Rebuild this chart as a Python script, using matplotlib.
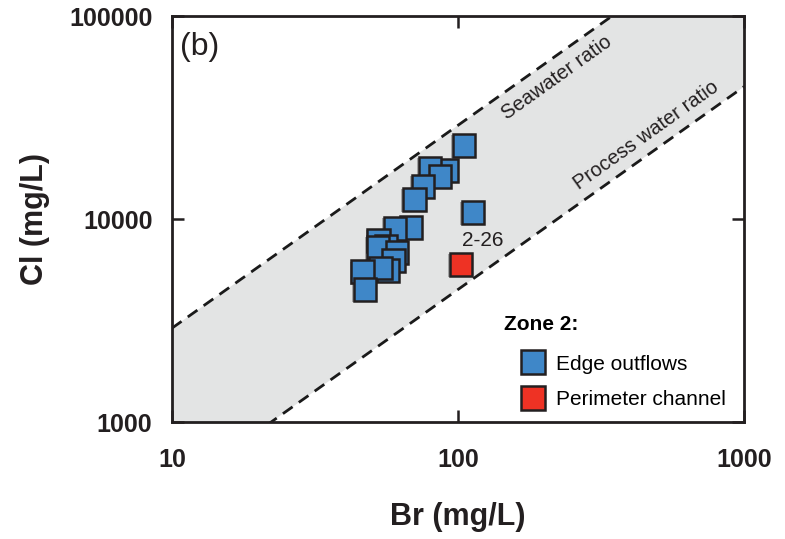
import numpy as np
import matplotlib
matplotlib.use("Agg")
import matplotlib.pyplot as plt
import matplotlib.patheffects as pe

plt.rcParams['font.family'] = ['Liberation Sans', 'DejaVu Sans']
plt.rcParams['lines.scale_dashes'] = False

# Zone 2 data
edge_br = [104.9, 90.8, 79.8, 86.5, 75.4, 70.2, 112.8, 68.5, 60.2, 52.9,
           56.0, 52.5, 61.2, 59.7, 56.9, 53.4, 46.5, 47.3]
edge_cl = [23140, 17430, 17830, 16290, 14550, 12550, 10830, 9130, 9030, 7880,
           7370, 7280, 6880, 6280, 5610, 5740, 5490, 4520]
perim_br = [102.4]
perim_cl = [6000]
perim_label = '2-26'

# Cl/Br ratio lines
seawater_ratio = 290
process_ratio = 45
x_range = [10, 1000]

blue = '#3f87c8'
red = '#ee3224'

fig = plt.figure(figsize=(7.85, 5.39), dpi=100)
ax = fig.add_axes([0.219, 0.217, 0.729, 0.753])
ax.set_xscale('log')
ax.set_yscale('log')
ax.set_xlim(10, 1000)
ax.set_ylim(1000, 100000)

xs = np.array(x_range, dtype=float)
ax.fill_between(xs, process_ratio * xs, seawater_ratio * xs, color='#e3e4e4', zorder=0, lw=0)
for r in (seawater_ratio, process_ratio):
    ln, = ax.plot(xs, r * xs, color='#1a1a1a', lw=2.0, zorder=1)
    ln.set_dashes((8.5, 5.5))

ax.text(222, 49500, 'Seawater ratio', rotation=35.5, rotation_mode='anchor',
        ha='center', va='center', fontsize=14.5, color='#231f20')
ax.text(454, 25900, 'Process water ratio', rotation=35.5, rotation_mode='anchor',
        ha='center', va='center', fontsize=14.5, color='#231f20')

shadow = [pe.SimplePatchShadow(offset=(-1.2, -1.2), shadow_rgbFace='#555555', alpha=0.45), pe.Normal()]
ax.plot(edge_br, edge_cl, 's', ms=16.5, mfc=blue, mec='#231f20', mew=1.8, ls='none',
        label='Edge outflows', zorder=3, path_effects=shadow)
ax.plot(perim_br, perim_cl, 's', ms=16.5, mfc=red, mec='#231f20', mew=1.8, ls='none',
        label='Perimeter channel', zorder=3, path_effects=shadow)
ax.text(perim_br[0] * 1.19, perim_cl[0] * 1.31, perim_label, ha='center', va='center',
        fontsize=15, color='#231f20')

ax.text(0.014, 0.925, '(b)', transform=ax.transAxes, ha='left', va='center',
        fontsize=23, color='#231f20')

leg = ax.legend(title='Zone 2:', loc='upper left', bbox_to_anchor=(0.565, 0.285),
                frameon=False, fontsize=15, alignment='left',
                title_fontproperties={'weight': 'bold', 'size': 15},
                handlelength=2.8, handletextpad=-0.3, labelspacing=0.8, borderaxespad=0)
leg._legend_box.sep = 15
for h in leg.legend_handles:
    h.set_path_effects([])
    h.set_markersize(17)

ax.set_xticks([10, 100, 1000])
ax.set_xticklabels(['10', '100', '1000'])
ax.set_yticks([1000, 10000, 100000])
ax.set_yticklabels(['1000', '10000', '100000'])
ax.minorticks_off()
ax.tick_params(which='major', direction='in', length=8.5, width=1.8,
               top=True, right=True, labelsize=18, colors='#231f20')
ax.tick_params(axis='x', pad=19)
ax.tick_params(axis='y', pad=14)
for lab in ax.get_xticklabels() + ax.get_yticklabels():
    lab.set_fontweight('bold')
for s in ax.spines.values():
    s.set_linewidth(2.0)
    s.set_color('#231f20')

ax.set_xlabel('Br (mg/L)', fontsize=22, fontweight='bold', color='#231f20', labelpad=21)
ax.set_ylabel('Cl (mg/L)', fontsize=22, fontweight='bold', color='#231f20', labelpad=14)

fig.savefig('out.png', dpi=100)
